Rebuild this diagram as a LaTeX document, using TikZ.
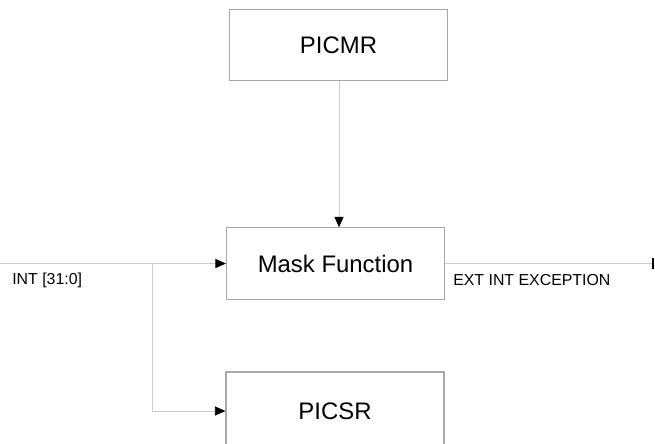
\documentclass[tikz,border=0pt]{standalone}
\usepackage{fontspec}
\setmainfont{Liberation Sans}
\usetikzlibrary{arrows.meta}
\definecolor{PICBox}{HTML}{A8A8A8}
\definecolor{PICLine}{HTML}{CCCCCC}

\tikzset{
  blk/.style={draw=PICBox,line width=0.8pt,minimum width=5.45cm,minimum height=1.78cm,inner sep=0pt,font=\fontsize{17}{20}\selectfont},
  sig/.style={draw=PICLine,line width=0.6pt},
  tip/.style={-{Triangle[length=7.5pt,width=6.5pt,black]}},
  lbl/.style={inner sep=0pt,font=\fontsize{11.3}{13}\selectfont}
}

\begin{document}
\begin{tikzpicture}[x=0.025cm,y=-0.025cm]
\path[use as bounding box] (0,0) rectangle (655,443);
\node[blk] (picmr) at (338.5,45) {PICMR};
\node[blk] (mask) at (335.5,263.5) {Mask Function};
\node[blk,minimum height=1.95cm] (picsr) at (335,411) {PICSR};
\coordinate (in) at (0,263.5);
\coordinate (fork) at (152,263.5);
\coordinate (out) at (654,263.5);
\draw[sig,tip] (picmr.south -| 339,0) -- (mask.north -| 339,0);
\draw[sig,tip] (in) -- (mask.west);
\draw[sig,tip] (fork) |- (picsr.west);
\draw[sig,-{Bar[width=7.5pt,line width=1.2pt,black]}] (mask.east) -- (out);
\node[lbl,anchor=base west] (intlbl) at (12,284) {INT [31:0]};
\node[lbl,anchor=base west] (extlbl) at (453,285) {EXT INT EXCEPTION};
\end{tikzpicture}
\end{document}
